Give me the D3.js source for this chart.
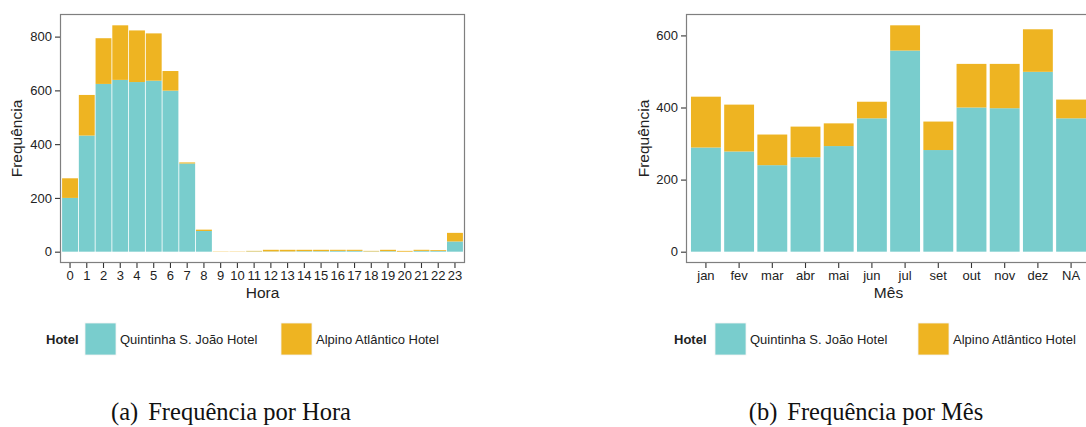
<!DOCTYPE html>
<html>
<head>
<meta charset="utf-8">
<script src="https://cdn.jsdelivr.net/npm/d3@7"></script>
<style>
  body { margin: 0; background: #fff; }
  svg { display: block; }
</style>
</head>
<body>
<div id="chart"></div>
<script>
var w = 1086;
var h = 427;

// series names and colours
var hotels = ["Quintinha S. João Hotel", "Alpino Atlântico Hotel"];
var colors = ["#79CDCD", "#EEB422"];

// (a) per hour
var horas = d3.range(24).map(String);
var horaQuintinha = [200, 432, 624, 639, 631, 636, 599, 328, 77, 0, 0, 1, 1, 1, 2, 2, 3, 3, 1, 2, 0, 3, 3, 38];
var horaAlpino    = [73, 151, 170, 203, 192, 176, 73, 4, 5, 1, 1, 2, 6, 6, 5, 5, 4, 4, 2, 5, 3, 4, 3, 32];

// (b) per month
var meses = ["jan", "fev", "mar", "abr", "mai", "jun", "jul", "set", "out", "nov", "dez", "NA"];
var mesQuintinha = [289, 278, 240, 262, 293, 370, 558, 282, 400, 398, 499, 370];
var mesAlpino    = [141, 130, 85, 85, 63, 46, 70, 79, 121, 123, 118, 52];

var yTicksHora = [0, 200, 400, 600, 800];
var yTicksMes = [0, 200, 400, 600];

var svg = d3.select("#chart")
    .append("svg")
    .attr("width", w)
    .attr("height", h);

function drawPanel(opt) {
    var g = svg.append("g");
    var p = opt.inner;

    var xScale = d3.scaleBand()
        .domain(opt.cats)
        .range([opt.left, opt.right])
        .paddingInner(p)
        .paddingOuter(0.1 + p / 2);

    var totals = opt.a.map(function(d, i) { return d + opt.b[i]; });
    var ymax = d3.max(totals);
    var yScale = d3.scaleLinear()
        .domain([-0.05 * ymax, ymax * 1.05])
        .range([opt.bottom, opt.top]);

    var stacked = d3.stack().keys([0, 1])(opt.cats.map(function(c, i) {
        return [opt.a[i], opt.b[i]];
    }));

    //Create bars
    g.selectAll("g.layer")
        .data(stacked)
        .enter()
        .append("g")
        .attr("fill", function(d, i) { return colors[i]; })
        .selectAll("rect")
        .data(function(d) { return d; })
        .enter()
        .append("rect")
        .attr("x", function(d, i) { return xScale(opt.cats[i]); })
        .attr("width", xScale.bandwidth())
        .attr("y", function(d) { return yScale(d[1]); })
        .attr("height", function(d) { return Math.max(0, yScale(d[0]) - yScale(d[1])); });

    // panel border
    g.append("rect")
        .attr("x", opt.left + 0.5)
        .attr("y", opt.top + 0.5)
        .attr("width", opt.right - opt.left - 1)
        .attr("height", opt.bottom - opt.top - 1)
        .attr("fill", "none")
        .attr("stroke", "#7f7f7f")
        .attr("stroke-width", 1.2);

    // y axis
    var yAxis = g.append("g")
        .attr("transform", "translate(" + opt.left + ",0)")
        .call(d3.axisLeft(yScale).tickValues(opt.yTicks).tickSize(5).tickPadding(3));
    // x axis
    var xAxis = g.append("g")
        .attr("transform", "translate(0," + opt.bottom + ")")
        .call(d3.axisBottom(xScale).tickSize(5).tickPadding(3));

    [xAxis, yAxis].forEach(function(a) {
        a.select(".domain").remove();
        a.selectAll("line").attr("stroke", "#333").attr("stroke-width", 1.1);
        a.selectAll("text")
            .attr("fill", "#222")
            .attr("font-family", "Liberation Sans, Arial, sans-serif")
            .attr("font-size", "13px");
    });

    // axis titles
    g.append("text")
        .attr("x", (opt.left + opt.right) / 2)
        .attr("y", 298)
        .attr("text-anchor", "middle")
        .attr("font-family", "Liberation Sans, Arial, sans-serif")
        .attr("font-size", "15.5px")
        .attr("fill", "#222")
        .text(opt.xTitle);

    g.append("text")
        .attr("transform", "translate(" + opt.yTitleX + "," + (opt.top + opt.bottom) / 2 + ") rotate(-90)")
        .attr("text-anchor", "middle")
        .attr("font-family", "Liberation Sans, Arial, sans-serif")
        .attr("font-size", "15.5px")
        .attr("fill", "#222")
        .text("Frequência");

    // legend
    var lg = g.append("g")
        .attr("font-family", "Liberation Sans, Arial, sans-serif")
        .attr("font-size", "13px")
        .attr("fill", "#222");
    lg.append("text")
        .attr("x", opt.legendX)
        .attr("y", 343.5)
        .attr("font-weight", "bold")
        .text("Hotel");
    hotels.forEach(function(name, i) {
        lg.append("rect")
            .attr("x", opt.keyX[i])
            .attr("y", 323)
            .attr("width", 31)
            .attr("height", 32)
            .attr("fill", colors[i])
            .attr("stroke", "#f2f2f2")
            .attr("stroke-width", 0.8);
        lg.append("text")
            .attr("x", opt.keyX[i] + 35)
            .attr("y", 343.5)
            .text(name);
    });

    // caption
    var cap = g.append("text")
        .attr("x", opt.capX)
        .attr("y", 420)
        .attr("text-anchor", "middle")
        .attr("font-family", "Liberation Serif, Times New Roman, serif")
        .attr("font-size", "24.5px")
        .attr("fill", "#111");
    cap.append("tspan").text(opt.capTag);
    cap.append("tspan").attr("dx", 10).text(opt.caption);
}

drawPanel({
    cats: horas, a: horaQuintinha, b: horaAlpino,
    left: 60, right: 465, top: 14, bottom: 263, inner: 0.05,
    yTicks: yTicksHora, xTitle: "Hora", yTitleX: 22,
    legendX: 46, keyX: [85, 281],
    capX: 231, capTag: "(a)", caption: "Frequência por Hora"
});

drawPanel({
    cats: meses, a: mesQuintinha, b: mesAlpino,
    left: 686, right: 1091, top: 14, bottom: 263, inner: 0.1,
    yTicks: yTicksMes, xTitle: "Mês", yTitleX: 649,
    legendX: 674, keyX: [715, 918],
    capX: 866, capTag: "(b)", caption: "Frequência por Mês"
});
</script>
</body>
</html>
